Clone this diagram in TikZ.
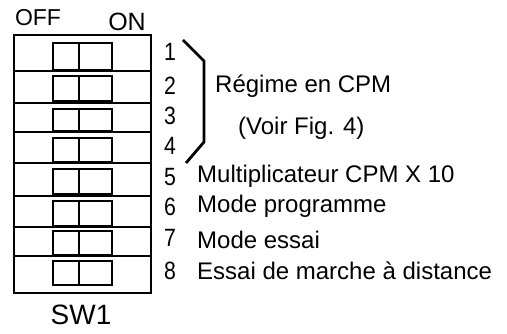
\documentclass[tikz,border=0pt]{standalone}
\usepackage{fontspec}
\setmainfont{Liberation Sans}
\newfontfamily\dipfont[FakeStretch=0.85]{Liberation Sans}
\usepackage{tikz}

\tikzset{
  digit/.style={font=\dipfont\fontsize{25}{28}\selectfont, inner sep=0pt},
  label/.style={font=\fontsize{24}{28}\selectfont, anchor=west, inner sep=0pt},
  swtext/.style={font=\fontsize{23}{26}\selectfont, inner sep=0pt},
}

\begin{document}
\begin{tikzpicture}[x=1pt, y=-1pt]
   \useasboundingbox (0,0) rectangle (507,334);

   % housing of the switch block
   \draw[line width=1.3pt] (14,35) rectangle (151,293);
   \foreach \y in {71,103,132,163,196,227,256}
     \draw[line width=1.1pt] (14,\y) -- (151,\y);

   % the eight levers
   \foreach \t/\b in {43/70,76/101,109/131,138/162,169/194,201/226,231/255,261/285}
   {
     \draw[line width=1.1pt] (53,\t) rectangle (112,\b);
     \draw[line width=1.1pt] (79,\t) -- (79,\b);
   }
   \draw[line width=2.6pt] (53,131) -- (112,131);
   \draw[line width=2.6pt] (53,226) -- (112,226);
   \draw[line width=2.6pt] (53,255) -- (112,255);

   % headings
   \node[swtext] (off) at (38,18) {OFF};
   \node[swtext, font=\fontsize{25}{28}\selectfont] (on) at (127,22) {ON};
   \node[swtext, font=\fontsize{28}{30}\selectfont] (sw) at (81,315) {SW1};

   % numbers
   \foreach \n/\y in {1/52,2/86,3/116,4/146,5/177,6/207,7/238,8/271}
     \node[digit] (d\n) at (170,\y) {\n};

   % bracket for 1..4
   \draw[line width=2.8pt] (183,40) -- (204,61) -- (204,142) -- (186,163);

   % descriptions
   \node[label] (cpm) at (215,86) {Régime en CPM};
   \node[label] (fig) at (238,128) {(Voir Fig. 4)};
   \node[label] (mult) at (197,176) {Multiplicateur CPM X 10};
   \node[label] (prog) at (197,206) {Mode programme};
   \node[label] (essai) at (197,240) {Mode essai};
   \node[label] (dist) at (197,271) {Essai de marche à distance};
\end{tikzpicture}
\end{document}
